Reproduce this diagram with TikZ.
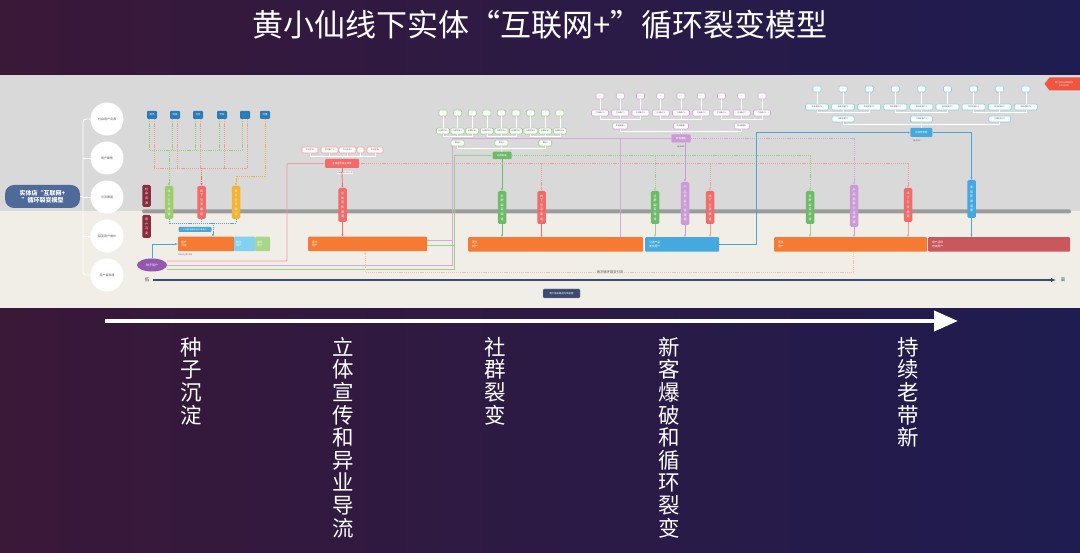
\documentclass[tikz,border=0pt]{standalone}
\usepackage{fontspec}
\setmainfont{Noto Sans CJK SC}
\usetikzlibrary{arrows.meta,shapes.geometric}

\definecolor{bgL}{HTML}{3A1838}
\definecolor{bgR}{HTML}{1E1C50}
\definecolor{panT}{HTML}{D9D9D9}
\definecolor{panB}{HTML}{F1EDE7}
\definecolor{band}{HTML}{9B9B9B}
\definecolor{rootC}{HTML}{4D6A99}
\definecolor{srcB}{HTML}{2B7BB9}
\definecolor{dRed}{HTML}{8C2B3D}
\definecolor{gS}{HTML}{9ECB6C}
\definecolor{gM}{HTML}{6DBB6A}
\definecolor{rS}{HTML}{F26B6B}
\definecolor{oS}{HTML}{F6B233}
\definecolor{oB}{HTML}{F57A33}
\definecolor{lB}{HTML}{80D2EE}
\definecolor{lG}{HTML}{A9D68A}
\definecolor{pE}{HTML}{9457B0}
\definecolor{pS}{HTML}{CB9BD8}
\definecolor{bS}{HTML}{45A8DE}
\definecolor{bL}{HTML}{4AA6D8}
\definecolor{rB}{HTML}{C8585C}
\definecolor{navy}{HTML}{3C4A6F}
\definecolor{redL}{HTML}{F29E98}
\definecolor{purL}{HTML}{D3A9D9}
\definecolor{grnL}{HTML}{9CCF8C}
\definecolor{odash}{HTML}{F1C7A8}
\definecolor{tagR}{HTML}{EF553F}
\definecolor{txtG}{HTML}{555555}

\tikzset{
  arr/.style={-{Latex[length=2.4pt,width=2.2pt]}},
  circ/.style={circle,fill=white,minimum size=33pt,inner sep=0pt,text=txtG,font=\fontsize{3}{3.5}\selectfont},
  src/.style={rectangle,rounded corners=1pt,fill=srcB,minimum width=10pt,minimum height=8pt,inner sep=0pt,text=white,font=\fontsize{2.4}{2.8}\selectfont},
  strip/.style={rectangle,rounded corners=1.5pt,minimum width=8.5pt,inner sep=0pt,text=white,align=center,font=\fontsize{3}{4.6}\selectfont},
  bbox/.style={rectangle,rounded corners=1pt,minimum height=14.5pt,inner sep=0pt},
  blbl/.style={anchor=west,inner sep=0pt,text=white,align=left,font=\fontsize{2.8}{3.6}\selectfont},
  tb/.style={rectangle,rounded corners=1.2pt,fill=white,draw=#1,line width=0.6pt,minimum height=6pt,inner sep=0.3pt,text=txtG,font=\fontsize{1.9}{2.2}\selectfont},
  brk/.style={draw=white,line width=0.6pt},
  cbox/.style={rectangle,rounded corners=1pt,inner sep=0pt,text=white,font=\fontsize{2.4}{2.8}\selectfont},
  note/.style={inner sep=0.4pt,fill=white,text=txtG,font=\fontsize{1.9}{2.2}\selectfont},
  dsh/.style={dash pattern=on 1.2pt off 0.9pt,line width=0.6pt},
  solidL/.style={line width=0.8pt},
  vlab/.style={anchor=north,inner sep=0pt,text=white,align=center,font=\fontsize{21.5}{22.6}\selectfont},
}

\begin{document}
\begin{tikzpicture}[x=1pt,y=-1pt]
\useasboundingbox (0,0) rectangle (1080,553);
% background
\shade[left color=bgL,right color=bgR] (0,0) rectangle (1080,553);
\node[text=white,font=\fontsize{31}{31}\selectfont,inner sep=0pt] (title) at (540,25) {黄小仙线下实体“互联网+”循环裂变模型};

% panel
\fill[panT] (0,75) rectangle (1080,211);
\fill[panB] (0,211) rectangle (1080,308);
\fill[band,rounded corners=1.5pt] (142,209.5) rectangle (1071,213.5);

% root and circles
\node[rectangle,rounded corners=9pt,fill=rootC,minimum width=75pt,minimum height=23pt,inner sep=0pt,text=white,align=center,font=\fontsize{6}{7.5}\selectfont\bfseries] (root) at (42.5,196.5) {实体店“互联网+\\”循环裂变模型};
\draw[brk,line width=0.9pt] (root.east) -- (83,196.5);
\draw[brk,line width=0.9pt,rounded corners=3pt] (91,119) -- (83,119) -- (83,275) -- (91,275);
\foreach \yy in {158,197,236} \draw[brk,line width=0.9pt] (83,\yy) -- (91,\yy);
\node[circ] (c1) at (107,119) {社会用户资源};
\node[circ] (c2) at (107,158) {用户聚焦};
\node[circ] (c3) at (107,197) {引流渠道};
\node[circ] (c4) at (107,236) {裂变用户增长};
\node[circ] (c5) at (107,275) {用户留存度};

% source boxes
\node[src] (b1) at (152,115) {商场};
\node[src] (b2) at (175,115) {网络};
\node[src] (b3) at (198,115) {社区};
\node[src] (b4) at (222,115) {学校};
\node[src] (b5) at (245,115) {…};
\node[src] (b6) at (265,115) {地推};

% strips
\node[strip,fill=dRed,minimum height=22pt] (sd1) at (146.5,196) {社\\会\\资\\源};
\node[strip,fill=dRed,minimum height=23pt] (sd2) at (146.5,226.5) {用\\户\\沉\\淀};
\node[strip,fill=gS,minimum height=33pt] (sg1) at (169,202.5) {线\\上\\引\\流\\渠\\道};
\node[strip,fill=rS,minimum height=33pt] (sr1) at (201.5,202.5) {线\\下\\引\\流\\渠\\道};
\node[strip,fill=oS,minimum height=33pt] (so1) at (236,202.5) {异\\业\\引\\流\\渠\\道};
\node[strip,fill=rS,minimum height=34pt] (sr2) at (342.5,205) {立\\体\\宣\\传\\渠\\道};
\node[strip,fill=gM,minimum height=33pt] (sg2) at (502,207.5) {社\\群\\裂\\变\\渠\\道};
\node[strip,fill=rS,minimum height=33pt] (sr3) at (541.5,207.5) {线\\下\\引\\流\\渠\\道};
\node[strip,fill=gM,minimum height=33pt] (sg3) at (655,207.5) {社\\群\\裂\\变\\渠\\道};
\node[strip,fill=pS,minimum height=43pt] (sp1) at (685,203.5) {产\\品\\拓\\客\\引\\流\\渠\\道};
\node[strip,fill=rS,minimum height=33pt] (sr4) at (710,207.5) {线\\下\\引\\流\\渠\\道};
\node[strip,fill=gM,minimum height=33pt] (sg4) at (810,207.5) {社\\群\\裂\\变\\渠\\道};
\node[strip,fill=pS,minimum height=42pt] (sp2) at (854,206) {产\\品\\拓\\客\\引\\流\\渠\\道};
\node[strip,fill=rS,minimum height=34pt] (sr5) at (908,205) {线\\下\\引\\流\\渠\\道};
\node[strip,fill=bS,minimum height=38pt] (sb5) at (971.5,199) {老\\带\\新\\渠\\道\\道};

% dashed from source boxes
\foreach \b in {b1,b2,b3,b4,b5}{
  \draw[dsh,draw=gS] ([xshift=-2.5pt]\b.south) -- ++(0,31);
  \draw[dsh,draw=redL] ([xshift=2pt]\b.south) -- ++(0,49);
}
\draw[dsh,draw=gS] (149.5,150) -- (242.5,150);
\draw[dsh,draw=gS,arr] (sg1.north |- 0,150) -- (sg1.north);
\draw[dsh,draw=redL] (154,168) -- (247,168);
\draw[dsh,draw=rS,arr] (sr1.north |- 0,168) -- (sr1.north);
\draw[dsh,draw=oS,arr] (b6.south) -- (265,176) -- (236,176) -- (so1.north);

% lower-left group
\node[bbox,fill=oB,minimum width=56pt] (o1) at (206,244) {};
\node[bbox,fill=lB,minimum width=21pt] (lb1) at (244.5,244) {};
\node[bbox,fill=lG,minimum width=15pt] (lg1) at (262.5,244) {};
\node[blbl] (o1t) at ([xshift=3pt]o1.west) {用户\\沉淀};
\node[blbl] (lb1t) at ([xshift=2pt]lb1.west) {转化\\用户};
\node[blbl] (lg1t) at ([xshift=2pt]lg1.west) {成交\\用户};
\draw[dsh,draw=bL] (sg1.south) -- (169,223) -- (236,223) -- (so1.south);
\draw[dsh,draw=bL] (sr1.south) -- (201.5,223);
\draw[dsh,draw=bL,arr] (213,223) -- (o1.north -| 213,0);
\node[cbox,fill=bL,minimum width=33pt,minimum height=5pt,font=\fontsize{1.9}{2.2}\selectfont] (call) at (195,229.5) {1个用户能带来XXX个新用户};
\node[inner sep=0pt,anchor=west,text=txtG,font=\fontsize{2}{2.4}\selectfont] (o1n) at (178,255) {1000人/天+XXX};
\node[ellipse,fill=pE,minimum width=30pt,minimum height=13pt,inner sep=0pt,text=white,font=\fontsize{3}{3.5}\selectfont] (seed) at (152,265) {种子用户};
\draw[draw=bL,solidL,arr] (seed.north) |- (o1.west);

% red branch
\node[cbox,fill=rS,minimum width=34pt,minimum height=9pt] (rb) at (342,163.5) {立体宣传异业导流};
\node[tb=redL,minimum width=16pt] (tr1) at (310,150) {文化宣传1};
\node[tb=redL,minimum width=17pt] (tr2) at (329.5,150) {宣传推广2};
\node[tb=redL,minimum width=17pt] (tr3) at (347.5,150) {文化宣传3};
\node[tb=redL,minimum width=7pt] (tr4) at (360.5,150) {…};
\node[tb=redL,minimum width=16pt] (tr5) at (375,150) {文化宣传n};
\draw[brk] (tr1.south) -- ++(0,3) -| (tr5.south);
\foreach \t in {tr2,tr3,tr4} \draw[brk] (\t.south) -- ++(0,3);
\draw[brk] (rb.north |- 0,156) -- (rb.north);
\node[note] (rbn) at (345,172.5) {流量曝光XXXX人次};
\draw[draw=rS,solidL,arr] ([yshift=-4pt]rb.south) -- (sr2.north);
\draw[draw=rS,solidL] (rb.south) -- ([yshift=-4pt]rb.south);
\draw[draw=redL,solidL,rounded corners=1pt,arr] ([yshift=4pt]seed.east) -| (287,163.5) -- (rb.west);

% orange box 2
\node[bbox,fill=oB,minimum width=119pt] (o2) at (367.5,244) {};
\node[blbl] (o2t) at ([xshift=4pt]o2.west) {更多\\用户};
\draw[draw=rS,solidL,arr] (sr2.south) -- (sr2.south |- o2.north);

% purple and green long lines
\draw[draw=purL,solidL,arr] (seed.east) -| (452,138.5) -- (681,138.5);
\draw[draw=grnL,solidL,arr] ([yshift=-4pt]seed.east) -| (454,155.5) -- (492,155.5);
\draw[draw=purL,solidL] ([yshift=4pt]o2.east) -- (452,240);
\draw[draw=grnL,solidL] ([yshift=-1pt]o2.east) -- (454,245);

% green social group
\node[cbox,fill=gM,minimum width=19pt,minimum height=7.5pt] (sq) at (502,155.5) {社群裂变};
\foreach \i in {0,...,8}{
  \node[tb=grnL,minimum width=8pt] (ga\i) at ({443+14.6*\i},113) {—};
  \node[tb=grnL,minimum width=13pt] (gb\i) at ({443+14.6*\i},131) {社群好友\i};
  \draw[brk] (ga\i.south) -- (gb\i.north);
}
\foreach \j [evaluate=\j as \l using int(3*\j), evaluate=\j as \m using int(3*\j+1), evaluate=\j as \r using int(3*\j+2), evaluate=\j as \n using int(\j+1)] in {0,1,2}{
  \draw[brk] (gb\l.south) -- ++(0,2) -| (gb\r.south);
  \draw[brk] (gb\m.south) -- ++(0,2);
  \node[tb=grnL,minimum width=13pt] (gc\j) at ({443+14.6*\m},143) {群组\n};
}
\draw[brk] (gc0.south) -- ++(0,2) -| (gc2.south);
\draw[brk] (gc1.south) -- (sq.north);
\draw[draw=gM,solidL,arr] (sq.south) -- (sg2.north);

% orange box 3 and blue box
\node[bbox,fill=oB,minimum width=175pt] (o3) at (555.5,244.5) {};
\node[blbl] (o3t) at ([xshift=4pt]o3.west) {更多\\用户};
\node[bbox,fill=bS,minimum width=74pt] (yb) at (682,244.5) {};
\node[blbl] (ybt) at ([xshift=4pt]yb.west) {引流产品\\成交用户};
\draw[draw=gM,solidL,arr] (sg2.south) -- (sg2.south |- o3.north);
\draw[draw=rS,solidL,arr] (sr3.south) -- (sr3.south |- o3.north);
\draw[draw=purL,solidL] (620,138.5) -- (o3.north -| 620,0);

% dashed horizontals
\draw[dsh,draw=redL] (rb.east) -- (908,163.5);
\foreach \s in {sr3,sr4,sr5} \draw[dsh,draw=redL,arr] (\s.north |- rb.east) -- (\s.north);
\draw[dsh,draw=grnL] (sq.east) -- (810,155.5);
\foreach \s in {sg3,sg4} \draw[dsh,draw=grnL,arr] (\s.north |- sq.east) -- (\s.north);

% purple new customer group
\node[cbox,fill=pS,draw=purL,minimum width=19pt,minimum height=8pt] (xk) at (681,138.5) {新客爆破};
\node[note,fill=panT] (xkn) at (681,146.5) {备注XXX};
\foreach \i in {0,...,8}{
  \node[tb=purL,minimum width=8pt] (pa\i) at ({600+20.25*\i},96) {—};
  \node[tb=purL,minimum width=17pt] (pb\i) at ({600+20.25*\i},113) {引流商户\i};
  \draw[brk] (pa\i.south) -- (pb\i.north);
}
\foreach \j [evaluate=\j as \l using int(3*\j), evaluate=\j as \m using int(3*\j+1), evaluate=\j as \r using int(3*\j+2), evaluate=\j as \n using int(\j+1)] in {0,1,2}{
  \draw[brk] (pb\l.south) -- ++(0,3) -| (pb\r.south);
  \draw[brk] (pb\m.south) -- ++(0,3);
  \node[tb=purL,minimum width=15pt] (pc\j) at ({600+20.25*\m},126) {异业联盟\n};
}
\draw[brk] (pc0.south) -- ++(0,2) -| (pc2.south);
\draw[brk] (pc1.south) -- (xk.north);
\draw[draw=pS,solidL,arr] (sp1.north |- xk.south) -- (sp1.north);
\draw[dsh,draw=purL] (xk.east) -- (854,138.5);
\draw[dsh,draw=purL,arr] (sp2.north |- xk.east) -- (sp2.north);
\draw[draw=grnL,line width=0.6pt,arr] (sg3.south) -- (sg3.south |- yb.north);
\draw[draw=pS,line width=0.6pt,arr] (sp1.south) -- (sp1.south |- yb.north);
\draw[draw=redL,line width=0.6pt,arr] (sr4.south) -- (sr4.south |- yb.north);

% blue old-with-new group
\node[cbox,fill=bS,minimum width=22pt,minimum height=9pt] (lx) at (921.4,132.5) {持续老带新};
\node[note,fill=panT] (lxn) at (917,140.5) {备注XXX};
\foreach \i in {0,...,8}{
  \node[tb=lB,minimum width=8pt] (ba\i) at ({817+26.1*\i},89) {—};
  \node[tb=lB,minimum width=23pt] (bb\i) at ({817+26.1*\i},107) {裂变老客户\i};
  \draw[brk] (ba\i.south) -- (bb\i.north);
}
\foreach \j [evaluate=\j as \l using int(3*\j), evaluate=\j as \m using int(3*\j+1), evaluate=\j as \r using int(3*\j+2), evaluate=\j as \n using int(\j+1)] in {0,1,2}{
  \draw[brk] (bb\l.south) -- ++(0,2) -| (bb\r.south);
  \draw[brk] (bb\m.south) -- ++(0,2);
  \node[tb=lB,minimum width=22pt] (bc\j) at ({817+26.1*\m},119) {口碑老客户\n};
}
\draw[brk] (bc0.south) -- ++(0,2.5) -| (bc2.south);
\draw[brk] (bc1.south) -- (lx.north);
\draw[draw=bL,solidL,arr] (yb.east) -| (lx.west -| 756,0) -- (lx.west);
\draw[draw=bL,solidL,arr] (lx.east) -| (sb5.north);

% orange box 4 and red box
\node[bbox,fill=oB,minimum width=153pt] (o4) at (850.5,244.5) {};
\node[blbl] (o4t) at ([xshift=4pt]o4.west) {更多\\用户};
\node[bbox,fill=rB,minimum width=142pt] (rb4) at (999,244.5) {};
\node[blbl] (rb4t) at ([xshift=4pt]rb4.west) {用户活跃\\忠诚用户};
\draw[draw=grnL,line width=0.6pt,arr] (sg4.south) -- (sg4.south |- o4.north);
\draw[draw=pS,line width=0.6pt,arr] (sp2.south) -- (sp2.south |- o4.north);
\draw[draw=redL,line width=0.6pt,arr] (sr5.south) -- (sr5.south |- o4.north);
\draw[draw=bL,solidL,arr] (sb5.south) -- (sb5.south |- rb4.north);

% recycle dashed line
\draw[dsh,draw=odash,line width=0.8pt,arr] (o4.south -| 853,0) -- (853,272) -- (365,272) -- (o2.south -| 365,0);
\node[inner sep=0.5pt,fill=panB,text=txtG,font=\fontsize{3.3}{3.8}\selectfont] (cyc) at (610,272.5) {再次循环裂变引流};

% axis
\draw[draw=navy,line width=1.3pt,-{Latex[length=5pt,width=4.5pt]}] (153,280) -- (1056,280);
\node[text=navy,inner sep=0pt,font=\fontsize{4.5}{5}\selectfont] (lo) at (147,280) {低};
\node[text=navy,inner sep=0pt,font=\fontsize{4.5}{5}\selectfont] (hi) at (1063,280) {高};
\node[rectangle,rounded corners=1pt,fill=navy,draw=navy!60!white,line width=0.4pt,minimum width=37pt,minimum height=9pt,inner sep=0pt,text=white,font=\fontsize{2.4}{2.8}\selectfont] (path) at (561.5,293.5) {用户增长路径与体验图};

% red tag top right
\fill[tagR] (1044.5,83.8) -- (1049.5,77.5) -- (1080,77.5) -- (1080,90.5) -- (1049.5,90.5) -- cycle;
\node[inner sep=0pt,text=white,align=center,font=\fontsize{2}{2.6}\selectfont] (tag) at (1064,84) {第三方平台资源合作\\XXXX  XXXX};

% bottom arrow and stage labels
\draw[draw=white,line width=4pt,-{Triangle[length=24pt,width=20pt]}] (105,321) -- (958,321);
\node[vlab] (st1) at (191,337) {种\\子\\沉\\淀};
\node[vlab] (st2) at (343.5,337) {立\\体\\宣\\传\\和\\异\\业\\导\\流};
\node[vlab] (st3) at (495,337) {社\\群\\裂\\变};
\node[vlab] (st4) at (669,337) {新\\客\\爆\\破\\和\\循\\环\\裂\\变};
\node[vlab] (st5) at (908,337) {持\\续\\老\\带\\新};
\end{tikzpicture}
\end{document}
